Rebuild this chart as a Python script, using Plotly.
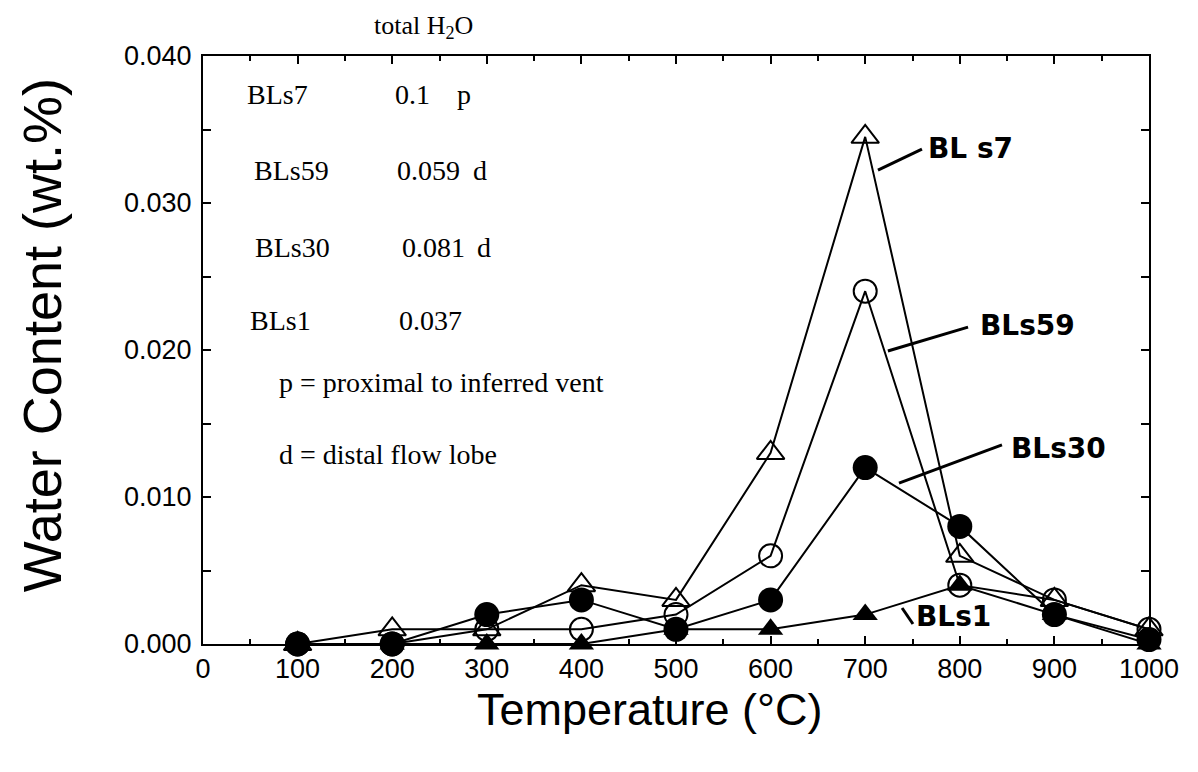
import plotly.graph_objects as go

temps = [100, 200, 300, 400, 500, 600, 700, 800, 900, 1000]
bls7 = [0.0, 0.001, 0.001, 0.004, 0.003, 0.013, 0.0345, 0.006, 0.003, 0.001]
bls59 = [0.0, 0.0, 0.001, 0.001, 0.002, 0.006, 0.024, 0.004, 0.003, 0.001]
bls30 = [0.0, 0.0, 0.002, 0.003, 0.001, 0.003, 0.012, 0.008, 0.002, 0.0003]
bls1 = [0.0, 0.0, 0.0, 0.0, 0.001, 0.001, 0.002, 0.004, 0.002, 0.0]

samples = ["BLs7", "BLs59", "BLs30", "BLs1"]
totals = ["0.1", "0.059", "0.081", "0.037"]
origins = ["p", "d", "d", ""]
x_ticks = [0, 100, 200, 300, 400, 500, 600, 700, 800, 900, 1000]
y_ticks = [0.0, 0.01, 0.02, 0.03, 0.04]

fig = go.Figure()
LW = 2
fig.add_trace(go.Scatter(x=temps, y=bls1, mode="lines+markers", name="BLs1",
                         line=dict(color="black", width=LW),
                         marker=dict(symbol="triangle-up", size=22, color="black"),
                         cliponaxis=False))
fig.add_trace(go.Scatter(x=temps, y=bls7, mode="lines+markers", name="BLs7",
                         line=dict(color="black", width=LW),
                         marker=dict(symbol="triangle-up-open", size=24, color="black",
                                     line=dict(width=2, color="black")),
                         cliponaxis=False))
fig.add_trace(go.Scatter(x=temps, y=bls59, mode="lines+markers", name="BLs59",
                         line=dict(color="black", width=LW),
                         marker=dict(symbol="circle-open", size=23, color="black",
                                     line=dict(width=2, color="black")),
                         cliponaxis=False))
fig.add_trace(go.Scatter(x=temps, y=bls30, mode="lines+markers", name="BLs30",
                         line=dict(color="black", width=LW),
                         marker=dict(symbol="circle", size=25, color="black"),
                         cliponaxis=False))

serif = dict(family="Liberation Serif", size=28, color="black")
ann = []
rows = [
    (44, 0.03735, 201, 266),
    (52, 0.03224, 203, 283),
    (53, 0.0270, 208, 288),
    (48, 0.02204, 205, None),
]
for (sx, sy, tx, ox), s, t, o in zip(rows, samples, totals, origins):
    ann.append(dict(x=sx, y=sy, xref="x", yref="y", text=s, showarrow=False,
                    xanchor="left", yanchor="middle", font=serif))
    ann.append(dict(x=tx, y=sy, xref="x", yref="y", text=t, showarrow=False,
                    xanchor="left", yanchor="middle", font=serif))
    if o:
        ann.append(dict(x=ox, y=sy, xref="x", yref="y", text=o, showarrow=False,
                        xanchor="left", yanchor="middle", font=serif))
ann.append(dict(x=78, y=0.01776, xref="x", yref="y", text="p = proximal to inferred vent",
                showarrow=False, xanchor="left", yanchor="middle", font=serif))
ann.append(dict(x=78, y=0.01286, xref="x", yref="y", text="d = distal flow lobe",
                showarrow=False, xanchor="left", yanchor="middle", font=serif))
ann.append(dict(x=0.2326, y=1.05, xref="paper", yref="paper", text="total H<sub>2</sub>O",
                showarrow=False, xanchor="center", yanchor="middle",
                font=dict(family="Liberation Serif", size=26, color="black")))

hand = dict(family="DejaVu Sans", size=28, color="black", weight="bold")
labels = [("BL s7", 811, 0.03374), ("BLs59", 872, 0.0217), ("BLs30", 904, 0.01333), ("BLs1", 793, 0.00184)]
for txt, lx, ly in labels:
    ann.append(dict(x=lx, y=ly, xref="x", yref="y", text=txt, showarrow=False,
                    xanchor="center", yanchor="middle", font=hand))

ann.append(dict(x=-0.170, y=0.5255, xref="paper", yref="paper", text="Water Content (wt.%)",
                textangle=-90, showarrow=False, xanchor="center", yanchor="middle",
                font=dict(family="Liberation Sans", size=54, color="black")))
ann.append(dict(x=0.4725, y=-0.112, xref="paper", yref="paper", text="Temperature (°C)",
                showarrow=False, xanchor="center", yanchor="middle",
                font=dict(family="Liberation Sans", size=45, color="black")))

pointers = [
    (713.5, 0.03224, 760.0, 0.03367),
    (724.0, 0.01993, 808.7, 0.02156),
    (735.7, 0.01095, 844.6, 0.01354),
    (739.0, 0.00245, 750.5, 0.00136),
]
shapes = []
for x0, y0, x1, y1 in pointers:
    shapes.append(dict(type="line", xref="x", yref="y", x0=x0, y0=y0, x1=x1, y1=y1,
                       line=dict(color="black", width=3)))

tickfont = dict(family="Liberation Sans", size=27, color="black")
fig.update_layout(
    width=1182, height=756,
    margin=dict(l=195, r=41, t=48, b=120),
    paper_bgcolor="white", plot_bgcolor="white",
    showlegend=False,
    annotations=ann, shapes=shapes,
    xaxis=dict(range=[0, 1000], tickvals=x_ticks, ticktext=[str(v) for v in x_ticks],
               ticks="inside", ticklen=8, tickwidth=1.5, tickcolor="black",
               minor=dict(ticks="inside", ticklen=5, dtick=50, tickwidth=1.5, tickcolor="black"),
               showline=True, linecolor="black", linewidth=2, mirror="ticks",
               showgrid=False, zeroline=False, tickfont=tickfont, ticklabelstandoff=0),
    yaxis=dict(range=[0, 0.04], tickvals=y_ticks, tickformat=".3f",
               ticks="inside", ticklen=8, tickwidth=1.5, tickcolor="black",
               minor=dict(ticks="inside", ticklen=8, dtick=0.005, tickwidth=1.5, tickcolor="black"),
               showline=True, linecolor="black", linewidth=2, mirror="ticks",
               showgrid=False, zeroline=False, tickfont=tickfont, ticklabelstandoff=4),
)

fig.write_html("out.html")
